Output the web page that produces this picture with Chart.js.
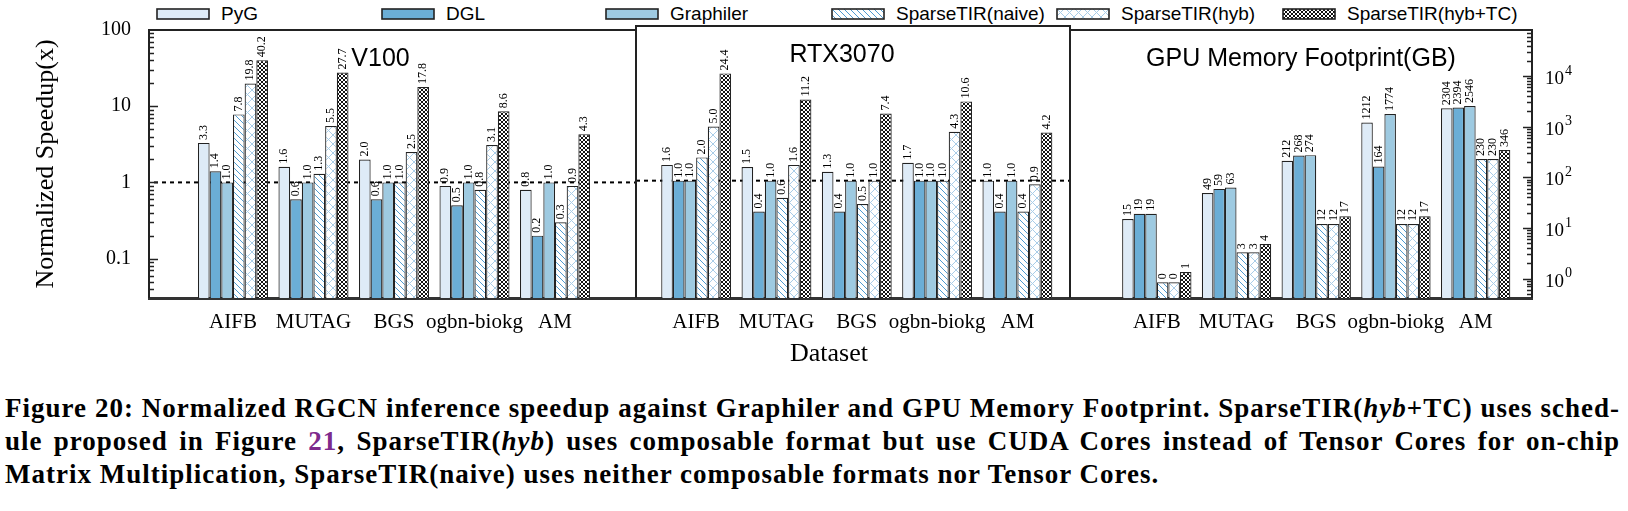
<!DOCTYPE html>
<html>
<head>
<meta charset="utf-8">
<script src="https://cdn.jsdelivr.net/npm/chart.js@4.4.1/dist/chart.umd.min.js"></script>
<style>
  html, body { margin: 0; padding: 0; background: #fff; }
  #fig { position: relative; width: 1628px; height: 511px; overflow: hidden; background: #fff; }
  #fig canvas.panel { position: absolute; top: 0; }
  .leg { position: absolute; top: 4px; height: 20px; display: flex; align-items: center;
         font: 19px "Liberation Sans", Arial, sans-serif; color: #000; white-space: nowrap; }
  .leg canvas { margin-right: 11px; }
  #xtitle { position: absolute; left: 729px; width: 200px; top: 338px; text-align: center;
            font: 26px "Liberation Serif", serif; }
  #caption { position: absolute; left: 5px; width: 1615px; top: 392px;
             font: bold 27px "Liberation Serif", serif; letter-spacing: 1px;
             line-height: 33px; color: #000; }
  #caption div { white-space: nowrap; }
  #caption .j { text-align: justify; text-align-last: justify; white-space: normal; }
  #caption .ref { color: #7d2a8c; }
</style>
</head>
<body>
<div id="fig">
  <div id="legend"></div>
  <canvas class="panel" id="c1"></canvas>
  <canvas class="panel" id="c2"></canvas>
  <canvas class="panel" id="c3"></canvas>
  <div id="xtitle">Dataset</div>
  <div id="caption">
    <div class="j">Figure 20: Normalized RGCN inference speedup against Graphiler and GPU Memory Footprint. SparseTIR(<i>hyb</i>+TC) uses sched-</div>
    <div class="j">ule proposed in Figure <span class="ref">21</span>, SparseTIR(<i>hyb</i>) uses composable format but use CUDA Cores instead of Tensor Cores for on-chip</div>
    <div>Matrix Multiplication, SparseTIR(naive) uses neither composable formats nor Tensor Cores.</div>
  </div>
</div>
<script>
const categories = ['AIFB', 'MUTAG', 'BGS', 'ogbn-biokg', 'AM'];
const seriesNames = ['PyG', 'DGL', 'Graphiler', 'SparseTIR(naive)', 'SparseTIR(hyb)', 'SparseTIR(hyb+TC)'];

// normalized speedup on V100
const v100PyG = [3.3, 1.6, 2.0, 0.9, 0.8];
const v100DGL = [1.4, 0.6, 0.6, 0.5, 0.2];
const v100Graphiler = [1.0, 1.0, 1.0, 1.0, 1.0];
const v100Naive = [7.8, 1.3, 1.0, 0.8, 0.3];
const v100Hyb = [19.8, 5.5, 2.5, 3.1, 0.9];
const v100HybTC = [40.2, 27.7, 17.8, 8.6, 4.3];

// normalized speedup on RTX3070
const rtxPyG = [1.6, 1.5, 1.3, 1.7, 1.0];
const rtxDGL = [1.0, 0.4, 0.4, 1.0, 0.4];
const rtxGraphiler = [1.0, 1.0, 1.0, 1.0, 1.0];
const rtxNaive = [2.0, 0.6, 0.5, 1.0, 0.4];
const rtxHyb = [5.0, 1.6, 1.0, 4.3, 0.9];
const rtxHybTC = [24.4, 11.2, 7.4, 10.6, 4.2];

// GPU memory footprint (GB)
const memPyG = [15, 49, 212, 1212, 2304];
const memDGL = [19, 59, 268, 164, 2394];
const memGraphiler = [19, 63, 274, 1774, 2546];
const memNaive = [0.85, 3.3, 12, 12, 230];
const memHyb = [0.85, 3.3, 12, 12, 230];
const memHybTC = [1.35, 4.8, 17, 17, 346];

const speedupTicks = [0.1, 1, 10, 100];
const memTicks = [1, 10, 100, 1000, 10000];

Chart.defaults.font.family = '"Liberation Serif", "Times New Roman", serif';
Chart.defaults.color = '#000';
Chart.defaults.animation = false;

function makePattern(kind) {
  const s = kind === 'tc' ? 4 : kind === 'naive' ? 6 : 9;
  const c = document.createElement('canvas');
  c.width = s; c.height = s;
  const g = c.getContext('2d');
  g.fillStyle = '#fff';
  g.fillRect(0, 0, s, s);
  g.lineWidth = 1;
  g.strokeStyle = kind === 'tc' ? '#111' : kind === 'naive' ? '#4f9bd0' : '#a9cde8';
  for (const o of [-s, 0, s]) {
    g.beginPath(); g.moveTo(0, o); g.lineTo(s, s + o); g.stroke();
  }
  if (kind !== 'naive') {
    for (const o of [0, s, 2 * s]) {
      g.beginPath(); g.moveTo(0, o); g.lineTo(s, o - s); g.stroke();
    }
  }
  return g.createPattern(c, 'repeat');
}

const fills = ['#deebf7', '#6baed6', '#9ecae1', makePattern('naive'), makePattern('hyb'), makePattern('tc')];

// legend (gnuplot style fixed columns)
const legendLeft = [156, 381, 605, 831, 1056, 1282];
seriesNames.forEach((name, i) => {
  const item = document.createElement('div');
  item.className = 'leg';
  item.style.left = legendLeft[i] + 'px';
  const sw = document.createElement('canvas');
  sw.width = 54; sw.height = 12;
  const g = sw.getContext('2d');
  g.fillStyle = fills[i];
  g.fillRect(1, 1, 52, 10);
  g.strokeStyle = '#222';
  g.lineWidth = 1.6;
  g.strokeRect(1, 1, 52, 10);
  item.appendChild(sw);
  item.appendChild(document.createTextNode(name));
  document.getElementById('legend').appendChild(item);
});

function logTicks(min, max) {
  const out = [];
  for (let e = -3; e <= 5; e++) {
    for (let k = 1; k <= 9; k++) {
      const v = e < 0 ? k / Math.pow(10, -e) : k * Math.pow(10, e);
      if (v >= min && v <= max) out.push({ value: v, major: k === 1 });
    }
  }
  return out;
}

const framePlugin = {
  id: 'frame',
  afterDatasetsDraw(chart) {
    const { left, top, right, bottom } = chart.chartArea;
    const ctx = chart.ctx;
    ctx.save();
    ctx.strokeStyle = '#222';
    ctx.lineWidth = 2;
    ctx.beginPath();
    ctx.moveTo(left, bottom); ctx.lineTo(left, top); ctx.lineTo(right, top); ctx.lineTo(right, bottom);
    ctx.stroke();
    ctx.restore();
  }
};

const refLinePlugin = {
  id: 'refLine',
  beforeDatasetsDraw(chart, args, opts) {
    const y = chart.scales.y.getPixelForValue(opts.value);
    const { left, right } = chart.chartArea;
    const ctx = chart.ctx;
    ctx.save();
    ctx.strokeStyle = '#000';
    ctx.lineWidth = 2;
    ctx.setLineDash([4, 4]);
    ctx.beginPath();
    ctx.moveTo(left + opts.inset, y); ctx.lineTo(right, y);
    ctx.stroke();
    ctx.restore();
  }
};

const valueLabelPlugin = {
  id: 'valueLabels',
  afterDatasetsDraw(chart, args, opts) {
    const ctx = chart.ctx;
    ctx.save();
    ctx.font = '12px "Liberation Serif"';
    ctx.fillStyle = '#000';
    ctx.textAlign = 'left';
    ctx.textBaseline = 'alphabetic';
    chart.data.datasets.forEach((ds, i) => {
      chart.getDatasetMeta(i).data.forEach((bar, j) => {
        ctx.save();
        ctx.translate(bar.x + 3, bar.y - 3);
        ctx.rotate(-Math.PI / 2);
        ctx.fillText(opts.format(ds.data[j].y), 0, 0);
        ctx.restore();
      });
    });
    ctx.restore();
  }
};

const tickPlugin = {
  id: 'inTicks',
  afterDraw(chart, args, opts) {
    const sc = chart.scales.y;
    const { left, right, top, bottom } = chart.chartArea;
    const x0 = opts.side === 'left' ? left : right;
    const dir = opts.side === 'left' ? 1 : -1;
    const ctx = chart.ctx;
    ctx.save();
    ctx.strokeStyle = '#222';
    ctx.lineWidth = 1.5;
    sc.ticks.forEach(t => {
      const y = Math.round(sc.getPixelForValue(t.value)) + 0.5;
      if (y < top + 1 || y > bottom - 1) return;
      const len = t.major ? 9 : 5;
      ctx.beginPath(); ctx.moveTo(x0, y); ctx.lineTo(x0 + dir * len, y); ctx.stroke();
    });
    if (opts.powers) {
      sc.ticks.filter(t => t.major).forEach(t => {
        const y = sc.getPixelForValue(t.value);
        const exp = Math.round(Math.log10(t.value));
        ctx.fillStyle = '#000';
        ctx.textAlign = 'left';
        ctx.textBaseline = 'middle';
        ctx.font = '19px "Liberation Serif"';
        ctx.fillText('10', right + 13, y + 3);
        const w = ctx.measureText('10').width;
        ctx.font = '14px "Liberation Serif"';
        ctx.fillText(String(exp), right + 13 + w + 1, y - 5);
      });
    }
    ctx.restore();
  }
};

function panelTitle(text, dx) {
  return {
    id: 'panelTitle',
    afterDraw(chart) {
      const { left, right, top } = chart.chartArea;
      const ctx = chart.ctx;
      ctx.save();
      ctx.font = '25px "Liberation Sans", Arial, sans-serif';
      ctx.fillStyle = '#000';
      ctx.textAlign = 'center';
      ctx.textBaseline = 'middle';
      ctx.fillText(text, (left + right) / 2 + dx, top + 29);
      ctx.restore();
    }
  };
}

function buildDatasets(series) {
  return series.map((vals, i) => ({
    label: seriesNames[i],
    data: vals.map((v, j) => ({ x: j, y: v })),
    backgroundColor: fills[i],
    borderColor: '#222',
    borderWidth: 1.2,
    categoryPercentage: 0.87,
    barPercentage: 1.0
  }));
}

function makePanel(id, opt) {
  const cv = document.getElementById(id);
  cv.style.left = opt.canvasLeft + 'px';
  cv.width = opt.canvasWidth;
  cv.height = 372;
  cv.style.width = opt.canvasWidth + 'px';
  cv.style.height = '372px';
  const plugins = [refLinePlugin, framePlugin, valueLabelPlugin, panelTitle(opt.title, opt.titleDx)];
  if (opt.tickSide) plugins.push(tickPlugin);
  return new Chart(cv, {
    type: 'bar',
    data: { datasets: buildDatasets(opt.series) },
    plugins: plugins,
    options: {
      responsive: false,
      maintainAspectRatio: false,
      layout: { padding: { top: 26, left: opt.padLeft, right: opt.padRight, bottom: 0 } },
      plugins: {
        legend: { display: false },
        tooltip: { enabled: false },
        refLine: opt.refLine ? { value: 1, inset: opt.refInset } : false,
        valueLabels: { format: opt.format },
        inTicks: { side: opt.tickSide, powers: opt.powers }
      },
      scales: {
        x: {
          type: 'linear',
          offset: false,
          min: opt.xMin,
          max: opt.xMax,
          grid: { display: false, drawTicks: false },
          border: { display: true, color: '#333', width: 3 },
          afterBuildTicks: s => { s.ticks = categories.map((c, i) => ({ value: i })); },
          afterFit: s => { s.height = 74; },
          ticks: {
            autoSkip: false, maxRotation: 0, padding: 12,
            font: { size: 21 },
            callback: v => categories[v]
          }
        },
        y: {
          type: 'logarithmic',
          position: opt.yPos,
          display: opt.yDisplay,
          min: opt.yMin,
          max: opt.yMax,
          grid: { display: false, drawTicks: false },
          border: { display: false },
          afterBuildTicks: s => { s.ticks = logTicks(opt.yMin, opt.yMax); },
          afterFit: s => { s.width = opt.yWidth; },
          ticks: {
            autoSkip: false, padding: 18,
            font: { size: 20 },
            callback: v => (!opt.powers && opt.majorTicks.some(m => Math.abs(m - v) < 1e-9)) ? String(v) : ''
          },
          title: {
            display: !!opt.yTitle,
            text: opt.yTitle || '',
            font: { size: 26 },
            padding: { top: 31, bottom: 0 }
          }
        }
      }
    }
  });
}

const speedFmt = v => v.toFixed(1);
const memFmt = v => String(Math.floor(v));

makePanel('c1', {
  canvasLeft: 0, canvasWidth: 640, padLeft: 0, padRight: 4,
  series: [v100PyG, v100DGL, v100Graphiler, v100Naive, v100Hyb, v100HybTC],
  xMin: -1.043, xMax: 5.006,
  yPos: 'left', yDisplay: true, yMin: 0.0304, yMax: 100, yWidth: 149,
  majorTicks: speedupTicks, yTitle: 'Normalized Speedup(x)',
  tickSide: 'left', powers: false,
  refLine: true, refInset: 5,
  title: 'V100', titleDx: -12, format: speedFmt
});

makePanel('c2', {
  canvasLeft: 632, canvasWidth: 442, padLeft: 4, padRight: 4,
  series: [rtxPyG, rtxDGL, rtxGraphiler, rtxNaive, rtxHyb, rtxHybTC],
  xMin: -0.749, xMax: 4.655,
  yPos: 'left', yDisplay: false, yMin: 0.0304, yMax: 100, yWidth: 0,
  majorTicks: speedupTicks, yTitle: null,
  tickSide: null, powers: false,
  refLine: true, refInset: 0,
  title: 'RTX3070', titleDx: -11, format: speedFmt
});

makePanel('c3', {
  canvasLeft: 1066, canvasWidth: 562, padLeft: 4, padRight: 0,
  series: [memPyG, memDGL, memGraphiler, memNaive, memHyb, memHybTC],
  xMin: -1.089, xMax: 4.707,
  yPos: 'right', yDisplay: true, yMin: 0.414, yMax: 81000, yWidth: 96,
  majorTicks: memTicks, yTitle: null,
  tickSide: 'right', powers: true,
  refLine: false, refInset: 0,
  title: 'GPU Memory Footprint(GB)', titleDx: 0, format: memFmt
});
</script>
</body>
</html>
